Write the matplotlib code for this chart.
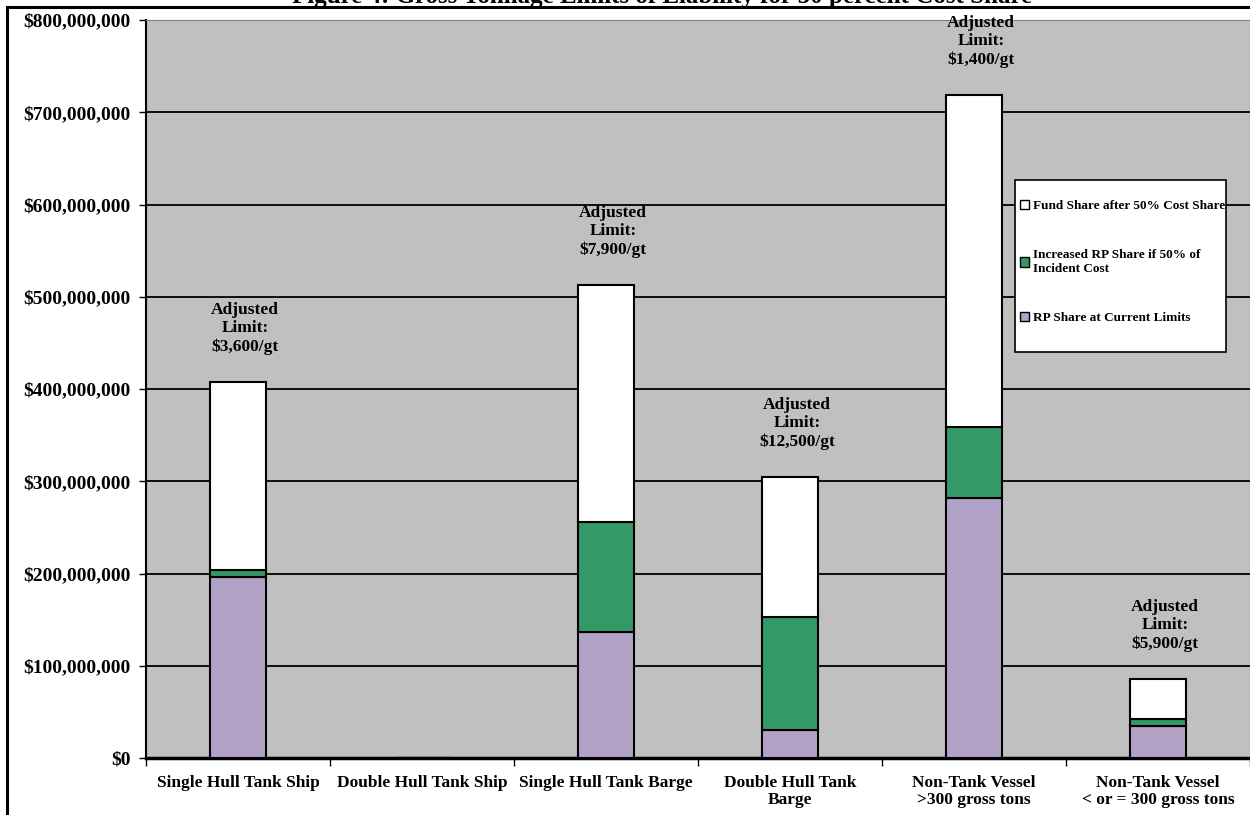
import matplotlib.pyplot as plt
import numpy as np
from matplotlib.patches import Rectangle, Patch
from matplotlib.ticker import FuncFormatter, FixedLocator

plt.rcParams['font.family'] = ['Liberation Serif', 'DejaVu Serif']
plt.rcParams['font.weight'] = 'bold'

categories = ["Single Hull Tank Ship", "Double Hull Tank Ship", "Single Hull Tank Barge",
              "Double Hull Tank\nBarge", "Non-Tank Vessel\n>300 gross tons",
              "Non-Tank Vessel\n< or = 300 gross tons"]
# values in dollars
rp_share = [196e6, 0, 137e6, 30e6, 282e6, 35e6]
increased_rp = [8e6, 0, 119e6, 123e6, 77e6, 7e6]
fund_share = [204e6, 0, 257e6, 152e6, 360e6, 44e6]
limit_labels = ["$3,600/gt", None, "$7,900/gt", "$12,500/gt", "$1,400/gt", "$5,900/gt"]

title = "Figure 4: Gross Tonnage Limits of Liability for 50 percent Cost Share"

fig = plt.figure(figsize=(12.5, 8.15), dpi=100)
ax = fig.add_axes([146/1250, 1 - 758/815, 1 - 146/1250, (758 - 20)/815])
ax.set_facecolor('#C0C0C0')

x = np.arange(len(categories))
w = 0.3
rp = np.array(rp_share)
inc = np.array(increased_rp)
fund = np.array(fund_share)

ax.bar(x, rp, w, color='#B3A2C7', edgecolor='black', linewidth=1.5, zorder=3)
ax.bar(x, inc, w, bottom=rp, color='#339966', edgecolor='black', linewidth=1.5, zorder=3)
ax.bar(x, fund, w, bottom=rp + inc, color='white', edgecolor='black', linewidth=1.5, zorder=3)

totals = rp + inc + fund
for i, lab in enumerate(limit_labels):
    if lab is None:
        continue
    ax.annotate("Adjusted\nLimit:\n" + lab, xy=(i, totals[i]), xytext=(5, 19),
                textcoords='offset points', ha='center', va='bottom',
                fontsize=12.5, fontweight='bold', linespacing=1.2, zorder=4)

ax.set_xlim(-0.5, 5.5)
ax.set_ylim(0, 800e6)
ax.yaxis.set_major_locator(FixedLocator(np.arange(0, 800e6 + 1, 100e6)))
ax.yaxis.set_major_formatter(FuncFormatter(lambda v, p: "${:,.0f}".format(v)))
ax.grid(axis='y', color='black', linewidth=1.3, zorder=0)

ax.set_xticks(np.arange(-0.5, 5.6, 1))
ax.set_xticklabels([])
ax.set_xticks(x, minor=True)
ax.set_xticklabels(categories, minor=True, fontsize=12.5, fontweight='bold', linespacing=1.1)
ax.tick_params(axis='x', which='major', length=6, width=1, direction='out')
ax.tick_params(axis='x', which='minor', length=0, pad=12)
ax.tick_params(axis='y', length=5, width=1, labelsize=14, pad=6)
for t in ax.get_yticklabels():
    t.set_fontweight('bold')

ax.spines['left'].set_linewidth(1.5)
ax.spines['bottom'].set_linewidth(2.5)
ax.spines['top'].set_color('#808080')
ax.spines['right'].set_color('#808080')

# legend box drawn separately so its padding matches the original
ax.add_patch(Rectangle((1015/1250, 1 - 352/815), 211/1250, 172/815, transform=fig.transFigure,
                       facecolor='white', edgecolor='black', linewidth=1.2, zorder=5))
handles = [Patch(facecolor='white', edgecolor='black'),
           Patch(facecolor='#339966', edgecolor='black'),
           Patch(facecolor='#B3A2C7', edgecolor='black')]
labels = ["Fund Share after 50% Cost Share", "Increased RP Share if 50% of\nIncident Cost",
          "RP Share at Current Limits"]
leg = ax.legend(handles, labels, loc='upper left', bbox_to_anchor=(1020/1250, 1 - 200/815),
                bbox_transform=fig.transFigure, fontsize=9.5, frameon=False,
                handlelength=0.7, handleheight=0.7, handletextpad=0.3, labelspacing=2.8,
                borderpad=0, borderaxespad=0)
leg.set_zorder(6)
for t in leg.get_texts():
    t.set_fontweight('bold')

fig.patches.append(Rectangle((7/1250, -0.05), 1.1, 1 - 7/815 + 0.05, transform=fig.transFigure,
                             fill=False, edgecolor='black', linewidth=2.2))
fig.text(662/1250, 1 - 3/815, title, ha='center', va='baseline', fontsize=18, fontweight='bold')

fig.savefig("out.png", dpi=100)
